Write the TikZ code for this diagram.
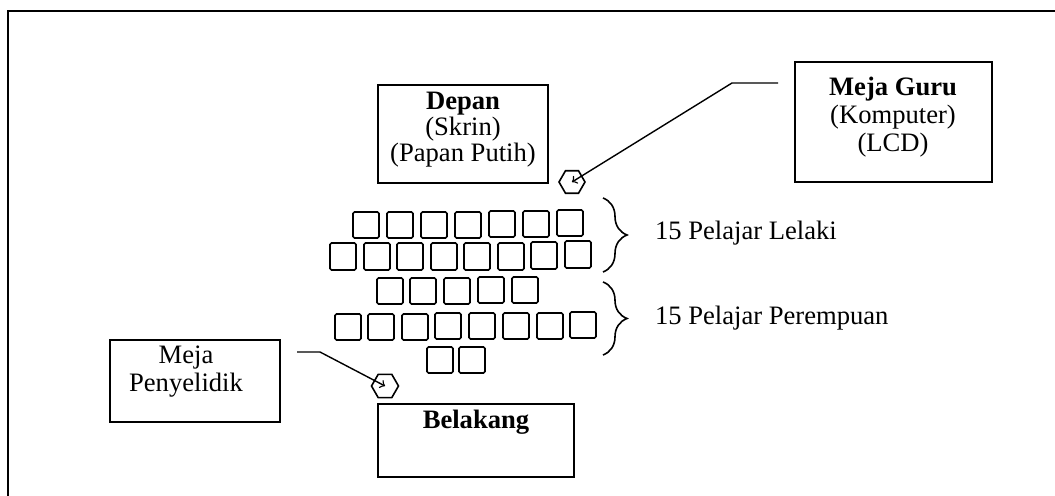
\documentclass[tikz,border=0pt]{standalone}
\usepackage{fontspec}
\setmainfont{Liberation Serif}
\usetikzlibrary{shapes.geometric, decorations.pathreplacing, positioning}

\begin{document}
\begin{tikzpicture}[x=0.5pt, y=-0.5pt,
    every node/.style={font=\fontsize{13.3}{13}\selectfont},
    box/.style={draw, line width=0.7pt, inner sep=0pt},
    desk/.style={draw, line width=0.8pt, rounded corners=0.8pt},
    hexa/.style={draw, regular polygon, regular polygon sides=6,
                 line width=0.8pt, inner sep=0pt},
    ptr/.style={->, line width=0.7pt},
    bracer/.style={decorate, decoration={brace, amplitude=12pt}, line width=0.8pt}]
  \useasboundingbox (0,0) rectangle (1055,496);

  % Outer frame
  \draw[line width=0.8pt] (8,496) -- (8,11) -- (1055,11);

  % Front / Back
  \node[box, minimum width=85pt, minimum height=49pt] (depan) at (463,134) {};
  \node[align=center] (depantxt) at (463,130)
    {\textbf{Depan}\\(Skrin)\\(Papan Putih)};
  \node[box, minimum width=98pt, minimum height=36.5pt] (belakang) at (476,440.5) {};
  \node (belakangtxt) at (476,422) {\textbf{Belakang}};

  % Teacher / Researcher
  \node[box, minimum width=98.5pt, minimum height=60pt] (guru) at (893.5,122) {};
  \node[align=center, font=\fontsize{13.3}{14}\selectfont] (gurutxt) at (893,117)
    {\textbf{Meja Guru}\\(Komputer)\\(LCD)};
  \node[box, minimum width=85pt, minimum height=41pt] (peny) at (195,381) {};
  \node[align=center, font=\fontsize{13.3}{14}\selectfont] (penytxt) at (186,372)
    {Meja\\Penyelidik};

  % Hexagons
  \node[hexa, minimum size=13pt] (hexguru) at (572,182) {};
  \node[hexa, minimum size=13.5pt] (hexpeny) at (385,386) {};

  % Pointers
  \coordinate (guruend) at (778,83);
  \coordinate (gurubend) at (732,83);
  \draw[ptr] (guruend) -- (gurubend) -- (hexguru.center);
  \coordinate (penyend) at (297,352);
  \coordinate (penybend) at (320,352);
  \draw[ptr] (penyend) -- (penybend) -- (hexpeny.center);

  % Row 1
  \draw[desk] (353,212) rectangle +(26,26);
  \draw[desk] (387,212) rectangle +(26,26);
  \draw[desk] (421,212) rectangle +(26,26);
  \draw[desk] (455,212) rectangle +(26,26);
  \draw[desk] (489,211) rectangle +(26,26);
  \draw[desk] (523,211) rectangle +(26,26);
  \draw[desk] (557,210) rectangle +(26,26);
  % Row 2
  \draw[desk] (330,243) rectangle +(26,27);
  \draw[desk] (364,243) rectangle +(26,27);
  \draw[desk] (397,243) rectangle +(26,27);
  \draw[desk] (431,243) rectangle +(26,27);
  \draw[desk] (464,243) rectangle +(26,27);
  \draw[desk] (498,243) rectangle +(26,27);
  \draw[desk] (531,242) rectangle +(26,27);
  \draw[desk] (565,241) rectangle +(26,27);
  % Row 3
  \draw[desk] (377,278) rectangle +(26,26);
  \draw[desk] (410,278) rectangle +(26,26);
  \draw[desk] (444,278) rectangle +(26,26);
  \draw[desk] (478,277) rectangle +(26,26);
  \draw[desk] (512,277) rectangle +(26,26);
  % Row 4
  \draw[desk] (335,314) rectangle +(26,26);
  \draw[desk] (368,314) rectangle +(26,26);
  \draw[desk] (402,314) rectangle +(26,26);
  \draw[desk] (435,313) rectangle +(26,26);
  \draw[desk] (469,313) rectangle +(26,26);
  \draw[desk] (503,313) rectangle +(26,26);
  \draw[desk] (537,313) rectangle +(26,26);
  \draw[desk] (570,312) rectangle +(26,26);
  % Row 5
  \draw[desk] (427,347) rectangle +(26,26);
  \draw[desk] (459,347) rectangle +(26,26);

  % Groups
  \coordinate (lelakitop) at (603,198);
  \coordinate (lelakibot) at (603,272);
  \draw[bracer] (lelakitop) -- (lelakibot);
  \node[anchor=west] (lelaki) at (648,233) {15 Pelajar Lelaki};
  \coordinate (perempuantop) at (603,282);
  \coordinate (perempuanbot) at (603,355);
  \draw[bracer] (perempuantop) -- (perempuanbot);
  \node[anchor=west] (perempuan) at (648,318) {15 Pelajar Perempuan};
\end{tikzpicture}
\end{document}
